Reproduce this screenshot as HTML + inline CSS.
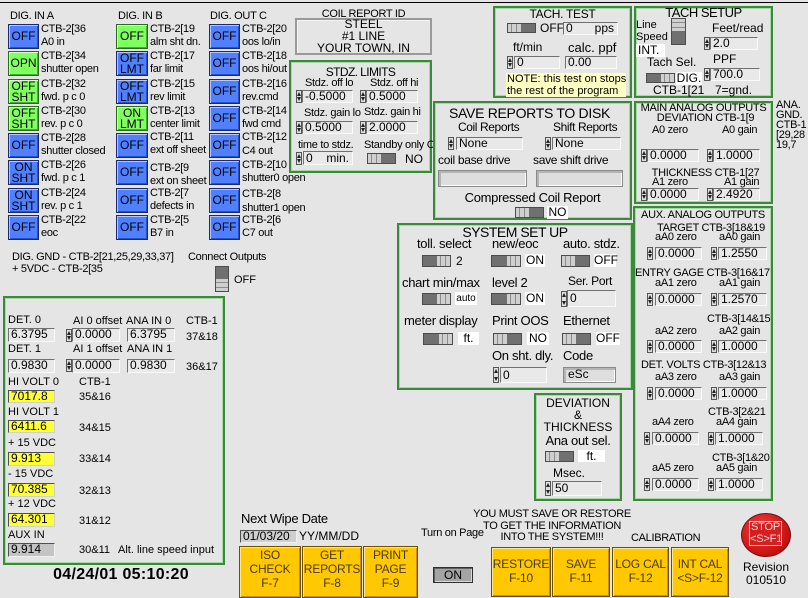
<!DOCTYPE html>
<html><head><meta charset="utf-8"><style>
*{box-sizing:border-box}
html,body{margin:0;padding:0}
body{width:808px;height:595px;overflow:hidden;background:#e5e5e5;position:relative;font-family:"Liberation Sans",Arial,sans-serif;font-size:11px;color:#000}
div{position:absolute}
.t{white-space:nowrap;line-height:13px}
.n{letter-spacing:-0.3px}
.nn{letter-spacing:-0.6px}
.c{text-align:center}
.box{border:2px solid #3a8a3a;box-shadow:inset 0 0 0 1px #a8d8a8}
.b{width:31px;height:25px;border:1px solid #1a2a70;background:#5080ff;box-shadow:inset 1px 1px 0 #b0c8ff,inset -1px -1px 0 #2850c8;text-align:center;font-size:12px;line-height:23px}
.b.d{line-height:11px;padding-top:1px}
.g{background:#80ff60;border-color:#2a6a20;box-shadow:inset 1px 1px 0 #d8ffc8,inset -1px -1px 0 #40b030}
.f{border:1px solid;border-color:#707070 #fafafa #fafafa #707070;background:#e9e9e9;padding-left:2px;white-space:nowrap;height:13px;line-height:11px;font-size:12px}
.f span{position:absolute;right:3px;top:0}
.y{background:#ffff38;border-color:#505050 #d0d0d0 #d0d0d0 #505050}
.gr{background:#c4c4c4;border-color:#505050 #f0f0f0 #f0f0f0 #505050}
.e{border:1px solid #8a8a8a;background:#dedede;box-shadow:inset 2px 2px 0 #b4b4b4,inset -1px -1px 0 #fff;padding-left:4px;font-size:12px}
.sp{width:6px;height:13px;background:#e0e0e0;border:1px solid #555}
.sp:before{content:"";position:absolute;left:0;top:1px;border-left:2px solid transparent;border-right:2px solid transparent;border-bottom:4px solid #222}
.sp:after{content:"";position:absolute;left:0;bottom:1px;border-left:2px solid transparent;border-right:2px solid transparent;border-top:4px solid #222}
.tg{height:11px;width:29px;background:#707070;border:1px solid #4c4c4c}
.tg i{position:absolute;top:0;bottom:0;width:13px;background:linear-gradient(90deg,#cfcfcf 0 3px,#8c8c8c 3px 4px,#cfcfcf 4px 8px,#8c8c8c 8px 9px,#cfcfcf 9px)}
.tg .l{left:0}.tg .r{right:0}
.vt{width:15px;height:27px;background:#707070;border:1px solid #4c4c4c}
.vt i{position:absolute;left:0;right:0;height:12px;background:linear-gradient(#cfcfcf 0 3px,#8c8c8c 3px 4px,#cfcfcf 4px 8px,#8c8c8c 8px 9px,#cfcfcf 9px)}
.w{background:#fff;height:13px;line-height:13px;text-align:center;font-size:12px;white-space:nowrap}
.yb{background:#ffc800;border:1px solid #6a5000;box-shadow:inset 1px 1px 0 #ffe888,inset -1px -1px 0 #c89000;text-align:center;font-size:12px;line-height:14px;color:#4a3a10;letter-spacing:-0.2px}
</style></head><body>

<div style="left:0;top:2px;width:808px;height:1px;background:#000"></div>

<!-- DIG titles -->
<div class="t n" style="left:10px;top:10px">DIG. IN A</div>
<div class="t n" style="left:118px;top:10px">DIG. IN B</div>
<div class="t n" style="left:210px;top:10px">DIG. OUT C</div>

<!-- Column A -->
<div class="b" style="left:8px;top:24px">OFF</div>
<div class="b g" style="left:8px;top:51px">OPN</div>
<div class="b g d" style="left:8px;top:79px">OFF<br>SHT</div>
<div class="b g d" style="left:8px;top:106px">OFF<br>SHT</div>
<div class="b" style="left:8px;top:133px">OFF</div>
<div class="b d" style="left:8px;top:160px">ON<br>SHT</div>
<div class="b d" style="left:8px;top:188px">ON<br>SHT</div>
<div class="b" style="left:8px;top:215px">OFF</div>
<div class="t n" style="left:41px;top:23px">CTB-2[36<br>A0 in</div>
<div class="t n" style="left:41px;top:50px">CTB-2[34<br>shutter open</div>
<div class="t n" style="left:41px;top:78px">CTB-2[32<br>fwd. p c 0</div>
<div class="t n" style="left:41px;top:105px">CTB-2[30<br>rev. p c 0</div>
<div class="t n" style="left:41px;top:132px">CTB-2[28<br>shutter closed</div>
<div class="t n" style="left:41px;top:159px">CTB-2[26<br>fwd. p c 1</div>
<div class="t n" style="left:41px;top:187px">CTB-2[24<br>rev. p c 1</div>
<div class="t n" style="left:41px;top:214px">CTB-2[22<br>eoc</div>

<!-- Column B -->
<div class="b g" style="left:116px;top:24px;width:32px">OFF</div>
<div class="b d" style="left:116px;top:51px;width:32px">OFF<br>LMT</div>
<div class="b d" style="left:116px;top:79px;width:32px">OFF<br>LMT</div>
<div class="b g d" style="left:116px;top:106px;width:32px">ON<br>LMT</div>
<div class="b" style="left:116px;top:133px;width:32px">OFF</div>
<div class="b" style="left:116px;top:160px;width:32px">OFF</div>
<div class="b" style="left:116px;top:188px;width:32px">OFF</div>
<div class="b" style="left:116px;top:215px;width:32px">OFF</div>
<div class="t n" style="left:150px;top:23px">CTB-2[19<br>alm sht dn.</div>
<div class="t n" style="left:150px;top:50px">CTB-2[17<br>far limit</div>
<div class="t n" style="left:150px;top:78px">CTB-2[15<br>rev limit</div>
<div class="t n" style="left:150px;top:105px">CTB-2[13<br>center limit</div>
<div class="t n" style="left:150px;top:131px">CTB-2[11<br>ext off sheet</div>
<div class="t n" style="left:150px;top:162px">CTB-2[9<br>ext on sheet</div>
<div class="t n" style="left:150px;top:187px">CTB-2[7<br>defects in</div>
<div class="t n" style="left:150px;top:214px">CTB-2[5<br>B7 in</div>

<!-- Column C -->
<div class="b" style="left:209px;top:24px">OFF</div>
<div class="b" style="left:209px;top:51px">OFF</div>
<div class="b" style="left:209px;top:79px">OFF</div>
<div class="b" style="left:209px;top:106px">OFF</div>
<div class="b" style="left:209px;top:133px">OFF</div>
<div class="b" style="left:209px;top:160px">OFF</div>
<div class="b" style="left:209px;top:188px">OFF</div>
<div class="b" style="left:209px;top:215px">OFF</div>
<div class="t n" style="left:242px;top:23px">CTB-2[20<br>oos lo/in</div>
<div class="t n" style="left:242px;top:50px">CTB-2[18<br>oos hi/out</div>
<div class="t n" style="left:242px;top:78px">CTB-2[16<br>rev.cmd</div>
<div class="t n" style="left:242px;top:105px">CTB-2[14<br>fwd cmd</div>
<div class="t n" style="left:242px;top:130px;line-height:14px">CTB-2[12<br>C4 out</div>
<div class="t n" style="left:242px;top:159px">CTB-2[10<br>shutter0 open</div>
<div class="t n" style="left:242px;top:187px;line-height:14px">CTB-2[8<br>shutter1 open</div>
<div class="t n" style="left:242px;top:214px">CTB-2[6<br>C7 out</div>

<!-- Coil report -->
<div class="t n c" style="left:295px;top:8px;width:137px">COIL REPORT ID</div>
<div style="left:295px;top:18px;width:137px;height:37px;border:2px solid #9a9a9a;box-shadow:inset 1px 1px 0 #f4f4f4"></div>
<div class="t c" style="left:295px;top:18px;width:137px;line-height:12px;font-size:12px">STEEL<br>#1 LINE<br>YOUR TOWN, IN</div>

<!-- STDZ LIMITS -->
<div class="box" style="left:289px;top:60px;width:143px;height:113px"></div>
<div class="t nn c" style="left:289px;top:66px;width:143px;font-size:12px">STDZ. LIMITS</div>
<div class="t n" style="left:305px;top:77px">Stdz. off lo</div>
<div class="t n" style="left:370px;top:77px">Stdz. off hi</div>
<div class="sp" style="left:296px;top:90px"></div><div class="f" style="left:302px;top:90px;width:51px">-0.5000</div>
<div class="sp" style="left:360px;top:90px"></div><div class="f" style="left:366px;top:90px;width:52px">0.5000</div>
<div class="t n" style="left:304px;top:107px">Stdz. gain lo</div>
<div class="t n" style="left:364px;top:106px">Stdz. gain hi</div>
<div class="sp" style="left:296px;top:121px"></div><div class="f" style="left:302px;top:121px;width:51px">0.5000</div>
<div class="sp" style="left:360px;top:121px"></div><div class="f" style="left:366px;top:121px;width:52px">2.0000</div>
<div class="t n" style="left:298px;top:139px">time to stdz.</div>
<div class="t n" style="left:364px;top:139px">Standby only C</div>
<div class="sp" style="left:296px;top:152px"></div><div class="f" style="left:303px;top:151px;width:50px;height:14px;line-height:12px">0<span>min.</span></div>
<div class="tg" style="left:367px;top:153px"><i class="l"></i></div>
<div class="t" style="left:405px;top:153px;font-size:12px">NO</div>

<!-- TACH TEST -->
<div class="box" style="left:493px;top:6px;width:139px;height:92px"></div>
<div class="t n c" style="left:493px;top:8px;width:139px;font-size:12px">TACH. TEST</div>
<div class="tg" style="left:507px;top:23px;height:10px"><i class="l"></i></div>
<div class="t" style="left:540px;top:22px;font-size:12px">OFF</div>
<div class="f" style="left:563px;top:22px;width:55px">0<span>pps</span></div>
<div class="t" style="left:513px;top:41px;font-size:12px">ft/min</div>
<div class="t" style="left:568px;top:41px;font-size:13px">calc. ppf</div>
<div class="sp" style="left:507px;top:56px"></div><div class="f" style="left:514px;top:56px;width:46px">0</div>
<div class="f" style="left:565px;top:56px;width:52px">0.00</div>
<div style="left:506px;top:73px;width:120px;height:24px;background:#ffffc4;font-size:11px;line-height:12px;white-space:nowrap;padding-left:1px">NOTE: this test on stops<br>the rest of the program</div>

<!-- TACH SETUP -->
<div class="box" style="left:634px;top:6px;width:139px;height:92px"></div>
<div class="t c" style="left:634px;top:6px;width:139px;font-size:13px;letter-spacing:-0.5px;line-height:14px">TACH SETUP</div>
<div class="t" style="left:636px;top:19px;line-height:12px">Line<br>Speed</div>
<div class="w" style="left:636px;top:44px;width:29px;text-align:left;padding-left:2px">INT.</div>
<div class="vt" style="left:671px;top:18px"><i style="top:0"></i></div>
<div class="t" style="left:712px;top:22px;font-size:12px">Feet/read</div>
<div class="sp" style="left:704px;top:37px"></div><div class="f" style="left:710px;top:37px;width:48px">2.0</div>
<div class="t" style="left:713px;top:53px;font-size:12px">PPF</div>
<div class="t" style="left:647px;top:56px;font-size:12px">Tach Sel.</div>
<div class="tg" style="left:646px;top:73px;height:10px"><i class="r"></i></div>
<div class="w" style="left:676px;top:72px;width:26px">DIG.</div>
<div class="sp" style="left:704px;top:68px"></div><div class="f" style="left:710px;top:68px;width:50px">700.0</div>
<div class="t" style="left:653px;top:84px;font-size:12px">CTB-1[21</div>
<div class="t" style="left:715px;top:84px;font-size:12px">7=gnd.</div>

<!-- SAVE REPORTS -->
<div class="box" style="left:433px;top:101px;width:199px;height:119px"></div>
<div class="t" style="left:449px;top:106px;font-size:14px;letter-spacing:-0.3px;line-height:14px">SAVE REPORTS TO DISK</div>
<div class="t" style="left:458px;top:121px;font-size:12px;letter-spacing:-0.4px">Coil Reports</div>
<div class="t" style="left:553px;top:121px;font-size:12px;letter-spacing:-0.4px">Shift Reports</div>
<div class="sp" style="left:448px;top:137px"></div><div class="f" style="left:456px;top:137px;width:67px">None</div>
<div class="sp" style="left:545px;top:137px"></div><div class="f" style="left:552px;top:137px;width:69px">None</div>
<div class="t" style="left:438px;top:154px;font-size:12px;letter-spacing:-0.3px">coil base drive</div>
<div class="t" style="left:533px;top:154px;font-size:12px;letter-spacing:-0.3px">save shift drive</div>
<div class="e" style="left:438px;top:170px;width:89px;height:17px"></div>
<div class="e" style="left:536px;top:170px;width:87px;height:17px"></div>
<div class="t c" style="left:433px;top:191px;width:199px;font-size:13px;letter-spacing:-0.3px">Compressed Coil Report</div>
<div class="tg" style="left:515px;top:207px"><i class="l"></i></div>
<div class="w" style="left:547px;top:206px;width:21px">NO</div>

<!-- MAIN ANALOG -->
<div class="box" style="left:634px;top:101px;width:139px;height:103px"></div>
<div class="t n c" style="left:634px;top:102px;width:139px">MAIN ANALOG OUTPUTS</div>
<div class="t n c" style="left:636px;top:112px;width:139px">DEVIATION CTB-1[9</div>
<div class="t n" style="left:652px;top:124px">A0 zero</div>
<div class="t n" style="left:722px;top:124px">A0 gain</div>
<div class="sp" style="left:641px;top:149px"></div><div class="f" style="left:647px;top:149px;width:52px">0.0000</div>
<div class="sp" style="left:707px;top:149px"></div><div class="f" style="left:713px;top:149px;width:47px">1.0000</div>
<div class="t n c" style="left:636px;top:167px;width:139px">THICKNESS CTB-1[27</div>
<div class="t n" style="left:652px;top:176px">A1 zero</div>
<div class="t n" style="left:724px;top:176px">A1 gain</div>
<div class="sp" style="left:641px;top:188px"></div><div class="f" style="left:647px;top:188px;width:52px">0.0000</div>
<div class="sp" style="left:707px;top:188px"></div><div class="f" style="left:713px;top:188px;width:47px">2.4920</div>

<div class="t n" style="left:776px;top:100px;line-height:10px">ANA.<br>GND.<br>CTB-1<br>[29,28<br>19,7</div>

<!-- AUX ANALOG -->
<div class="box" style="left:633px;top:206px;width:140px;height:295px"></div>
<div class="t n c" style="left:633px;top:209px;width:140px">AUX. ANALOG OUTPUTS</div>
<div class="t n" style="left:657px;top:222px">TARGET CTB-3[18&amp;19</div>
<div class="t n" style="left:655px;top:231px">aA0 zero</div>
<div class="t n" style="left:719px;top:231px">aA0 gain</div>
<div class="sp" style="left:647px;top:247px"></div><div class="f" style="left:655px;top:247px;width:47px">0.0000</div>
<div class="sp" style="left:711px;top:247px"></div><div class="f" style="left:718px;top:247px;width:49px">1.2550</div>
<div class="t n" style="left:635px;top:267px">ENTRY GAGE CTB-3[16&amp;17</div>
<div class="t n" style="left:655px;top:277px">aA1 zero</div>
<div class="t n" style="left:719px;top:277px">aA1 gain</div>
<div class="sp" style="left:647px;top:293px"></div><div class="f" style="left:655px;top:293px;width:47px">0.0000</div>
<div class="sp" style="left:711px;top:293px"></div><div class="f" style="left:718px;top:293px;width:49px">1.2570</div>
<div class="t n" style="left:707px;top:313px">CTB-3[14&amp;15</div>
<div class="t n" style="left:655px;top:325px">aA2 zero</div>
<div class="t n" style="left:719px;top:325px">aA2 gain</div>
<div class="sp" style="left:647px;top:340px"></div><div class="f" style="left:655px;top:340px;width:47px">0.0000</div>
<div class="sp" style="left:711px;top:340px"></div><div class="f" style="left:718px;top:340px;width:49px">1.0000</div>
<div class="t n" style="left:641px;top:359px">DET. VOLTS CTB-3[12&amp;13</div>
<div class="t n" style="left:655px;top:371px">aA3 zero</div>
<div class="t n" style="left:719px;top:371px">aA3 gain</div>
<div class="sp" style="left:647px;top:387px"></div><div class="f" style="left:655px;top:387px;width:47px">0.0000</div>
<div class="sp" style="left:711px;top:387px"></div><div class="f" style="left:718px;top:387px;width:49px">1.0000</div>
<div class="t n" style="left:708px;top:406px">CTB-3[2&amp;21</div>
<div class="t n" style="left:652px;top:416px">aA4 zero</div>
<div class="t n" style="left:716px;top:416px">aA4 gain</div>
<div class="sp" style="left:644px;top:432px"></div><div class="f" style="left:652px;top:432px;width:47px">0.0000</div>
<div class="sp" style="left:708px;top:432px"></div><div class="f" style="left:715px;top:432px;width:48px">1.0000</div>
<div class="t n" style="left:712px;top:452px">CTB-3[1&amp;20</div>
<div class="t n" style="left:652px;top:462px">aA5 zero</div>
<div class="t n" style="left:716px;top:462px">aA5 gain</div>
<div class="sp" style="left:644px;top:478px"></div><div class="f" style="left:652px;top:478px;width:47px">0.0000</div>
<div class="sp" style="left:708px;top:478px"></div><div class="f" style="left:715px;top:478px;width:48px">1.0000</div>

<!-- SYSTEM SET UP -->
<div class="box" style="left:397px;top:223px;width:236px;height:167px"></div>
<div class="t c" style="left:397px;top:225px;width:236px;font-size:14px;letter-spacing:-0.5px;line-height:14px">SYSTEM SET UP</div>
<div class="t n" style="left:417px;top:237px;font-size:13px">toll. select</div>
<div class="t n" style="left:492px;top:237px;font-size:13px">new/eoc</div>
<div class="t n" style="left:563px;top:237px;font-size:13px">auto. stdz.</div>
<div class="tg" style="left:422px;top:255px;height:12px"><i class="r"></i></div>
<div class="t" style="left:456px;top:255px;font-size:12px">2</div>
<div class="tg" style="left:491px;top:255px;height:12px;width:30px"><i class="r"></i></div>
<div class="w" style="left:525px;top:254px;width:20px">ON</div>
<div class="tg" style="left:561px;top:255px;height:12px"><i class="l"></i></div>
<div class="w" style="left:594px;top:254px;width:22px">OFF</div>

<div class="t n" style="left:402px;top:276px;font-size:13px">chart min/max</div>
<div class="t n" style="left:492px;top:276px;font-size:13px">level 2</div>
<div class="t n" style="left:568px;top:275px;font-size:12px">Ser. Port</div>
<div class="tg" style="left:422px;top:293px;height:12px"><i class="r"></i></div>
<div class="w" style="left:455px;top:292px;width:22px;font-size:10px">auto</div>
<div class="tg" style="left:491px;top:293px;height:12px;width:30px"><i class="r"></i></div>
<div class="w" style="left:525px;top:292px;width:20px">ON</div>
<div class="sp" style="left:561px;top:291px;height:16px"></div><div class="f" style="left:567px;top:290px;width:49px;height:17px;line-height:15px">0</div>

<div class="t n" style="left:404px;top:314px;font-size:13px">meter display</div>
<div class="t n" style="left:492px;top:314px;font-size:13px">Print OOS</div>
<div class="t n" style="left:563px;top:314px;font-size:13px">Ethernet</div>
<div class="tg" style="left:423px;top:333px;height:12px;width:30px"><i class="r"></i></div>
<div class="w" style="left:458px;top:332px;width:21px">ft.</div>
<div class="tg" style="left:493px;top:333px;height:12px"><i class="l"></i></div>
<div class="w" style="left:527px;top:332px;width:22px">NO</div>
<div class="tg" style="left:562px;top:333px;height:12px"><i class="l"></i></div>
<div class="w" style="left:596px;top:332px;width:24px">OFF</div>

<div class="t n" style="left:492px;top:349px;font-size:13px">On sht. dly.</div>
<div class="t n" style="left:563px;top:349px;font-size:13px">Code</div>
<div class="sp" style="left:493px;top:367px;height:16px"></div><div class="f" style="left:500px;top:367px;width:47px;height:16px;line-height:14px">0</div>
<div class="e" style="left:563px;top:367px;width:53px;height:16px;line-height:13px">eSc</div>

<!-- DEVIATION -->
<div class="box" style="left:534px;top:393px;width:88px;height:108px"></div>
<div class="t c" style="left:534px;top:397px;width:88px;font-size:12px;line-height:12px">DEVIATION<br>&amp;<br>THICKNESS</div>
<div class="t c" style="left:534px;top:434px;width:88px;font-size:13px;letter-spacing:-0.3px">Ana out sel.</div>
<div class="tg" style="left:545px;top:451px"><i class="l"></i></div>
<div class="w" style="left:578px;top:450px;width:27px;height:12px;line-height:12px">ft.</div>
<div class="t" style="left:553px;top:467px;font-size:12px">Msec.</div>
<div class="sp" style="left:545px;top:481px;height:15px"></div><div class="f" style="left:552px;top:481px;width:50px;height:15px;line-height:13px">50</div>

<!-- DIG GND / Connect -->
<div class="t n" style="left:12px;top:251px">DIG. GND - CTB-2[21,25,29,33,37]</div>
<div class="t n" style="left:188px;top:251px">Connect Outputs</div>
<div class="t n" style="left:12px;top:263px">+ 5VDC - CTB-2[35</div>
<div class="vt" style="left:215px;top:266px;width:14px;height:26px"><i style="bottom:0"></i></div>
<div class="t" style="left:234px;top:274px">OFF</div>

<!-- Left panel -->
<div class="box" style="left:3px;top:296px;width:222px;height:269px"></div>
<div class="t" style="left:8px;top:314px">DET. 0</div>
<div class="t" style="left:73px;top:315px">AI 0 offset</div>
<div class="t" style="left:126px;top:315px">ANA IN 0</div>
<div class="t" style="left:186px;top:315px">CTB-1</div>
<div class="f" style="left:8px;top:328px;width:47px;height:14px">6.3795</div>
<div class="sp" style="left:66px;top:329px"></div><div class="f" style="left:72px;top:328px;width:48px;height:14px">0.0000</div>
<div class="f" style="left:127px;top:328px;width:48px;height:14px">6.3795</div>
<div class="t" style="left:186px;top:331px">37&amp;18</div>
<div class="t" style="left:8px;top:343px">DET. 1</div>
<div class="t" style="left:73px;top:343px">AI 1 offset</div>
<div class="t" style="left:127px;top:343px">ANA IN 1</div>
<div class="f" style="left:8px;top:359px;width:47px;height:14px">0.9830</div>
<div class="sp" style="left:66px;top:359px"></div><div class="f" style="left:72px;top:359px;width:48px;height:14px">0.0000</div>
<div class="f" style="left:127px;top:359px;width:48px;height:14px">0.9830</div>
<div class="t" style="left:186px;top:361px">36&amp;17</div>
<div class="t" style="left:8px;top:376px">HI VOLT 0</div>
<div class="t" style="left:79px;top:376px">CTB-1</div>
<div class="f y" style="left:8px;top:390px;width:47px;height:13px">7017.8</div>
<div class="t" style="left:79px;top:391px">35&amp;16</div>
<div class="t" style="left:8px;top:406px">HI VOLT 1</div>
<div class="f y" style="left:8px;top:420px;width:47px;height:13px">6411.6</div>
<div class="t" style="left:79px;top:422px">34&amp;15</div>
<div class="t" style="left:8px;top:437px">+ 15 VDC</div>
<div class="f y" style="left:8px;top:452px;width:47px;height:14px">9.913</div>
<div class="t" style="left:79px;top:453px">33&amp;14</div>
<div class="t" style="left:8px;top:468px">- 15 VDC</div>
<div class="f y" style="left:8px;top:483px;width:47px;height:14px">70.385</div>
<div class="t" style="left:79px;top:485px">32&amp;13</div>
<div class="t" style="left:8px;top:498px">+ 12 VDC</div>
<div class="f y" style="left:8px;top:513px;width:47px;height:14px">64.301</div>
<div class="t" style="left:79px;top:515px">31&amp;12</div>
<div class="t" style="left:8px;top:529px">AUX IN</div>
<div class="f gr" style="left:8px;top:543px;width:47px;height:14px">9.914</div>
<div class="t" style="left:79px;top:544px">30&amp;11</div>
<div class="t" style="left:118px;top:544px">Alt. line speed input</div>

<div class="t c" style="left:20px;top:566px;width:202px;font-size:16px;line-height:18px;font-weight:bold;letter-spacing:0.3px">04/24/01 05:10:20</div>

<!-- Bottom -->
<div class="t" style="left:241px;top:512px;font-size:13px;letter-spacing:-0.3px;line-height:14px">Next Wipe Date</div>
<div class="f gr" style="left:240px;top:530px;width:57px;height:13px;background:#cfcfcf">01/03/20</div>
<div class="t" style="left:299px;top:530px;font-size:12px">YY/MM/DD</div>

<div class="yb" style="left:239px;top:546px;width:62px;height:52px;padding-top:1px">ISO<br>CHECK<br>F-7</div>
<div class="yb" style="left:302px;top:546px;width:60px;height:52px;padding-top:1px">GET<br>REPORTS<br>F-8</div>
<div class="yb" style="left:363px;top:546px;width:55px;height:52px;padding-top:1px">PRINT<br>PAGE<br>F-9</div>
<div class="t" style="left:421px;top:527px;font-size:11px;letter-spacing:-0.3px">Turn on Page</div>
<div style="left:433px;top:567px;width:40px;height:16px;background:#a4a4a4;border:1px solid #303030;box-shadow:inset 1px 1px 0 #606060,inset -1px -1px 0 #d8d8d8;text-align:center;font-size:12px;line-height:14px">ON</div>

<div class="t n c" style="left:460px;top:509px;width:184px;line-height:11.5px">YOU MUST SAVE OR RESTORE<br>TO GET THE INFORMATION<br>INTO THE SYSTEM!!!</div>
<div class="t n" style="left:631px;top:532px">CALIBRATION</div>

<div class="yb" style="left:491px;top:547px;width:60px;height:50px;padding-top:9px">RESTORE<br>F-10</div>
<div class="yb" style="left:552px;top:547px;width:58px;height:50px;padding-top:9px">SAVE<br>F-11</div>
<div class="yb" style="left:612px;top:547px;width:57px;height:50px;padding-top:9px">LOG CAL<br>F-12</div>
<div class="yb" style="left:671px;top:547px;width:58px;height:50px;padding-top:9px">INT CAL<br>&lt;S&gt;F-12</div>

<div style="left:741px;top:513px;width:50px;height:44px;border-radius:50%;background:radial-gradient(ellipse at 40% 35%,#f04040,#c81010 70%,#901010);border:1px solid #701010"></div>
<div style="left:749px;top:521px;width:33px;height:25px;border:1px solid #ffc8c8;background:#d42020;color:#ffd8d8;text-align:center;font-size:11px;line-height:11.5px;letter-spacing:-0.2px">STOP<br>&lt;S&gt;F1</div>
<div class="t c" style="left:736px;top:561px;width:60px;font-size:12px">Revision<br>010510</div>

</body></html>
